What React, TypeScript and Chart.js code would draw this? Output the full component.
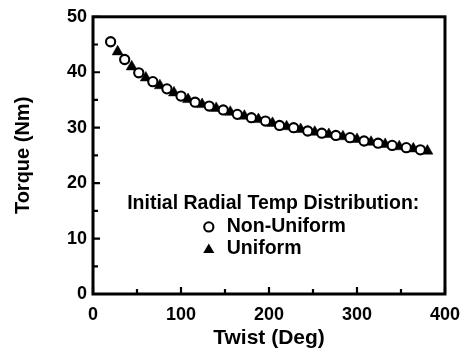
import React, { useEffect, useRef } from 'react';
import { Chart, registerables } from 'chart.js';

Chart.register(...registerables);

// Non-uniform initial radial temperature distribution (open circles)
const nonUniformTwist = [20, 36, 52, 68, 84, 100, 116, 132, 148, 164, 180, 196, 212, 228, 244, 260, 276, 292, 308, 324, 340, 356, 372];
const nonUniformTorque = [45.5, 42.3, 39.9, 38.3, 37.0, 35.7, 34.6, 33.9, 33.2, 32.4, 31.8, 31.2, 30.4, 30.0, 29.4, 29.0, 28.6, 28.2, 27.6, 27.2, 26.8, 26.4, 26.0];

// Uniform initial radial temperature distribution (filled triangles)
const uniformTwist = [28, 44, 60, 76, 92, 108, 124, 140, 156, 172, 188, 204, 220, 236, 252, 268, 284, 300, 316, 332, 348, 364, 380];
const uniformTorque = [43.7, 41.0, 39.0, 37.6, 36.3, 35.1, 34.2, 33.5, 32.8, 32.1, 31.5, 30.8, 30.2, 29.7, 29.2, 28.8, 28.4, 27.9, 27.4, 27.0, 26.6, 26.2, 25.8];

const xTitle = 'Twist (Deg)';
const yTitle = 'Torque (Nm)';
const legendTitle = 'Initial Radial Temp Distribution:';
const seriesNames = ['Non-Uniform', 'Uniform'];

const FONT = "'Liberation Sans', Arial, Helvetica, sans-serif";

const framePlugin = {
  id: 'frameTicks',
  afterDraw(chart: any) {
    const { ctx, chartArea: a, scales } = chart;
    ctx.save();
    ctx.strokeStyle = '#000';
    ctx.lineWidth = 3;
    ctx.strokeRect(a.left, a.top, a.right - a.left, a.bottom - a.top);
    ctx.lineWidth = 2.2;
    ctx.beginPath();
    scales.x.ticks.forEach((t: any) => {
      const x = scales.x.getPixelForValue(t.value);
      const len = t.value % 100 === 0 ? 7 : 5;
      ctx.moveTo(x, a.bottom);
      ctx.lineTo(x, a.bottom - len);
    });
    scales.y.ticks.forEach((t: any) => {
      const y = scales.y.getPixelForValue(t.value);
      const len = t.value % 10 === 0 ? 7 : 5;
      ctx.moveTo(a.left, y);
      ctx.lineTo(a.left + len, y);
    });
    ctx.stroke();
    ctx.restore();
  },
};

const legendPlugin = {
  id: 'innerLegend',
  afterDraw(chart: any) {
    const { ctx, chartArea: a } = chart;
    const w = a.right - a.left;
    const h = a.bottom - a.top;
    ctx.save();
    ctx.fillStyle = '#000';
    ctx.textBaseline = 'middle';
    ctx.font = `bold 19.5px ${FONT}`;
    ctx.textAlign = 'center';
    const cx = a.left + w * 0.512;
    const ty = a.top + h * 0.675;
    ctx.fillText(legendTitle, cx, ty);
    const mx = a.left + w * 0.329;
    const tx = a.left + w * 0.38;
    const y1 = ty + 23;
    const y2 = ty + 45;
    // circle
    ctx.beginPath();
    ctx.lineWidth = 2.1;
    ctx.strokeStyle = '#000';
    ctx.fillStyle = '#fff';
    ctx.arc(mx, y1, 4.6, 0, Math.PI * 2);
    ctx.fill();
    ctx.stroke();
    // triangle
    ctx.fillStyle = '#000';
    ctx.beginPath();
    const r = 6.4;
    for (let i = 0; i < 3; i++) {
      const ang = (i * 2 * Math.PI) / 3;
      const px = mx + Math.sin(ang) * r;
      const py = y2 + 1 - Math.cos(ang) * r;
      if (i === 0) ctx.moveTo(px, py);
      else ctx.lineTo(px, py);
    }
    ctx.closePath();
    ctx.fill();
    ctx.textAlign = 'left';
    ctx.fillText(seriesNames[0], tx, y1);
    ctx.fillText(seriesNames[1], tx, y2);
    ctx.restore();
  },
};

export default function App() {
  const ref = useRef<HTMLCanvasElement | null>(null);

  useEffect(() => {
    document.body.style.margin = '0';
    document.body.style.overflow = 'hidden';
    const canvas = ref.current;
    if (!canvas) return;
    const chart = new Chart(canvas, {
      type: 'scatter',
      data: {
        datasets: [
          {
            label: seriesNames[0],
            data: nonUniformTwist.map((x, i) => ({ x, y: nonUniformTorque[i] })),
            pointStyle: 'circle',
            pointRadius: 4.6,
            pointBorderWidth: 2.1,
            pointBackgroundColor: '#fff',
            pointBorderColor: '#000',
            showLine: false,
          },
          {
            label: seriesNames[1],
            data: uniformTwist.map((x, i) => ({ x, y: uniformTorque[i] })),
            pointStyle: 'triangle',
            pointRadius: 6.4,
            pointBorderWidth: 0.5,
            pointBackgroundColor: '#000',
            pointBorderColor: '#000',
            showLine: false,
          },
        ],
      },
      options: {
        responsive: false,
        animation: false,
        devicePixelRatio: 1,
        layout: { padding: { top: 14, left: 0, right: 19, bottom: 0 } },
        plugins: {
          legend: { display: false },
          tooltip: { enabled: false },
        },
        scales: {
          x: {
            type: 'linear',
            min: 0,
            max: 400,
            border: { display: false },
            grid: { display: false, drawTicks: false },
            ticks: {
              stepSize: 50,
              autoSkip: false,
              maxRotation: 0,
              padding: 10,
              color: '#000',
              font: { family: FONT, size: 18, weight: 'bold' },
              callback: (v: any) => (Number(v) % 100 === 0 ? String(v) : ''),
            },
            title: {
              display: true,
              text: xTitle,
              color: '#000',
              font: { family: FONT, size: 21, weight: 'bold' },
              padding: { top: 0, bottom: 7 },
            },
            afterFit: (s: any) => {
              s.height = 64;
            },
          },
          y: {
            type: 'linear',
            min: 0,
            max: 50,
            border: { display: false },
            grid: { display: false, drawTicks: false },
            ticks: {
              stepSize: 5,
              autoSkip: false,
              padding: 6,
              color: '#000',
              font: { family: FONT, size: 18, weight: 'bold' },
              callback: (v: any) => (Number(v) % 10 === 0 ? String(v) : ''),
            },
            title: {
              display: true,
              text: yTitle,
              color: '#000',
              font: { family: FONT, size: 20, weight: 'bold' },
              padding: { top: 11, bottom: 0 },
            },
            afterFit: (s: any) => {
              s.width = 93;
            },
          },
        },
      },
      plugins: [framePlugin, legendPlugin],
    });
    return () => chart.destroy();
  }, []);

  return (
    <canvas
      ref={ref}
      width={470}
      height={358}
      style={{ position: 'fixed', left: 0, top: 0, width: 470, height: 358 }}
    />
  );
}
